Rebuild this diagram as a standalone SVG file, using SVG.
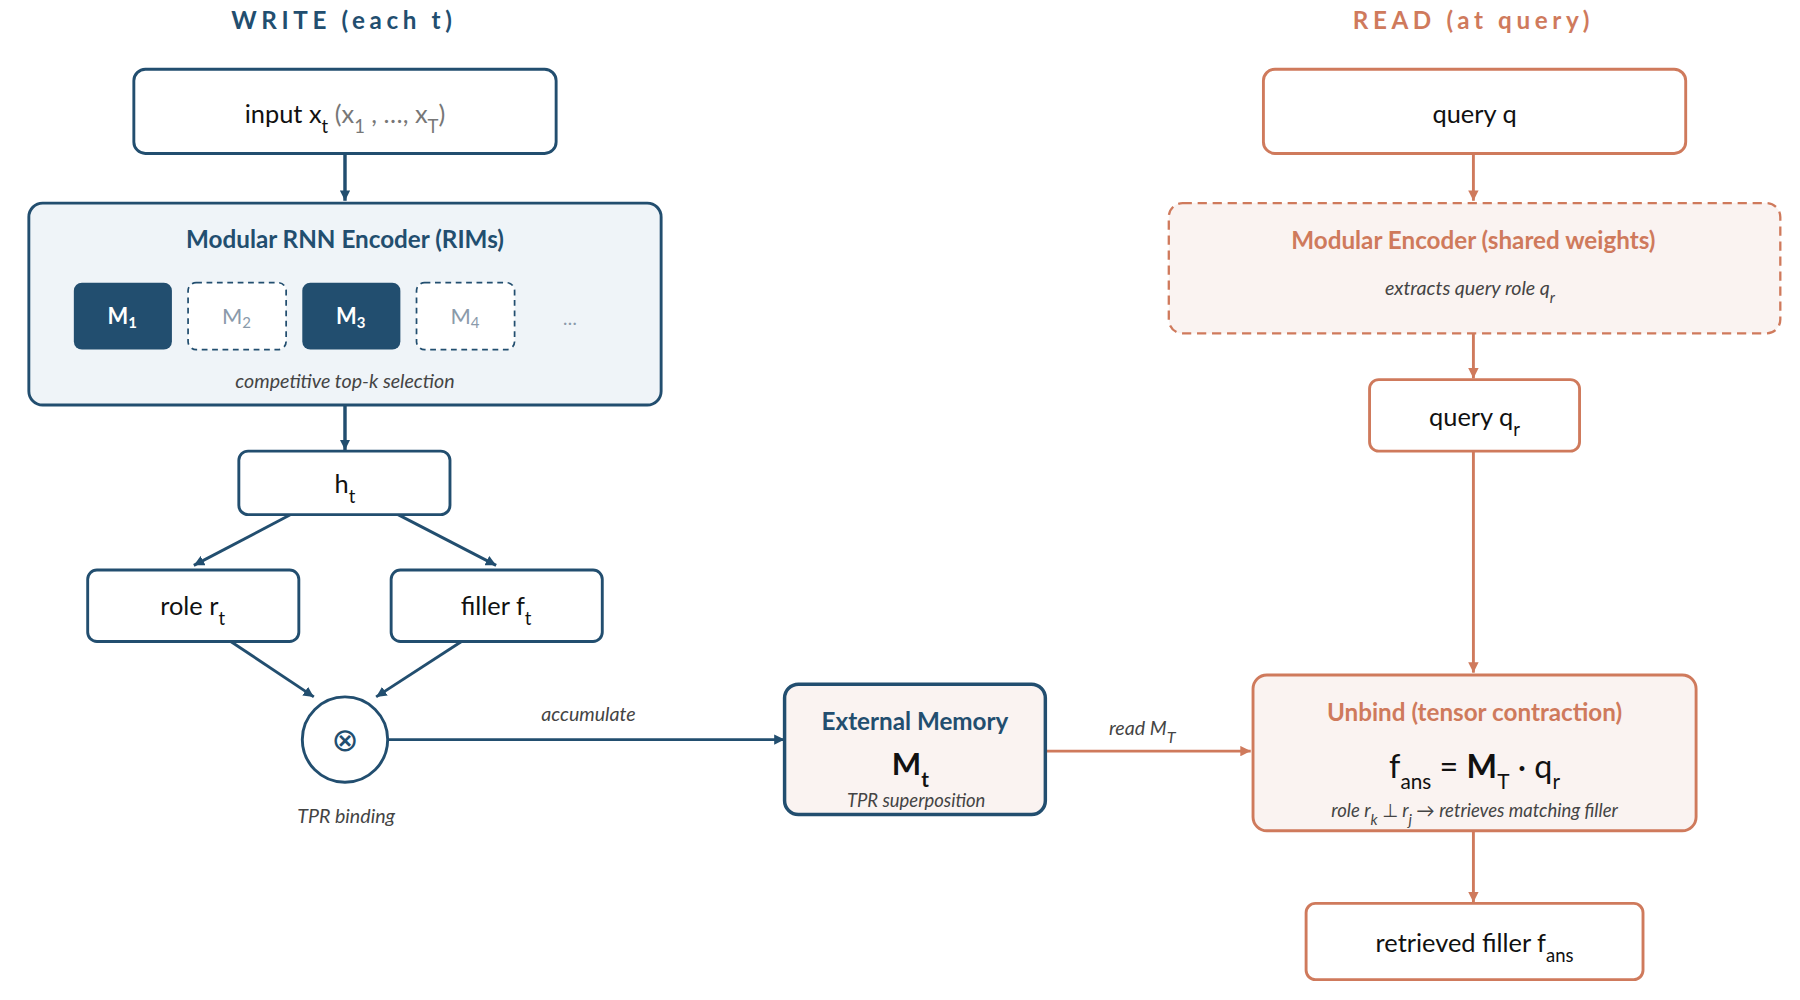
<svg xmlns="http://www.w3.org/2000/svg" width="1800" height="1000" viewBox="0 0 1800 1000">
<defs>
<style>
text{font-family:Lato,"Open Sans","DejaVu Sans",sans-serif;text-anchor:middle}
.n{fill:#fff;stroke:#224E6F;stroke-width:2.5}
.o{fill:#fff;stroke:#CF7A5C;stroke-width:2.5}
.lb{font-size:22px;fill:#111}
.hn{font-size:21px;font-weight:bold;fill:#224E6F}
.ho{font-size:21px;font-weight:bold;fill:#CF7A5C}
.it{font-size:17px;font-style:italic;fill:#444}
.cn{stroke:#224E6F;stroke-width:2.5;fill:none}
.co{stroke:#CF7A5C;stroke-width:2.5;fill:none}
</style>
<marker id="an" viewBox="0 0 10 10" refX="10" refY="5" markerWidth="9" markerHeight="9" markerUnits="userSpaceOnUse" orient="auto"><path d="M0,0L10,5L0,10z" fill="#224E6F"/></marker>
<marker id="ao" viewBox="0 0 10 10" refX="10" refY="5" markerWidth="9" markerHeight="9" markerUnits="userSpaceOnUse" orient="auto"><path d="M0,0L10,5L0,10z" fill="#CF7A5C"/></marker>
</defs>
<rect width="1800" height="1000" fill="#fff"/>
<g transform="scale(1.1538)">
<text x="298" y="25" style="font-size:21px;font-weight:bold;fill:#224E6F;letter-spacing:4px">WRITE (each t)</text>
<text x="1277" y="25" style="font-size:21px;font-weight:bold;fill:#CF7A5C;letter-spacing:4px">READ (at query)</text>

<g id="connectors">
<line class="cn" x1="299" y1="133" x2="299" y2="174" marker-end="url(#an)" style="stroke-width:3"/>
<line class="cn" x1="299" y1="351" x2="299" y2="390" marker-end="url(#an)" style="stroke-width:3"/>
<line class="cn" x1="252" y1="446" x2="168" y2="490" marker-end="url(#an)"/>
<line class="cn" x1="345" y1="446" x2="430" y2="490" marker-end="url(#an)"/>
<line class="cn" x1="200" y1="556" x2="272" y2="604" marker-end="url(#an)"/>
<line class="cn" x1="400" y1="556" x2="326" y2="604" marker-end="url(#an)"/>
<line class="cn" x1="337" y1="641" x2="680" y2="641" marker-end="url(#an)"/>
<text class="it" x="510" y="625">accumulate</text>
<line class="co" x1="906" y1="651" x2="1084" y2="651" marker-end="url(#ao)"/>
<text class="it" x="990" y="637">read M<tspan dy="7" font-size="14">T</tspan></text>
<line class="co" x1="1277" y1="133" x2="1277" y2="174" marker-end="url(#ao)"/>
<line class="co" x1="1277" y1="289" x2="1277" y2="328" marker-end="url(#ao)"/>
<line class="co" x1="1277" y1="391" x2="1277" y2="583" marker-end="url(#ao)"/>
<line class="co" x1="1277" y1="720" x2="1277" y2="782" marker-end="url(#ao)"/>
</g>

<g id="input"><rect class="n" x="116" y="60" width="366" height="73" rx="10"/>
<text class="lb" x="299" y="107">input x<tspan dy="8" font-size="16">t</tspan><tspan dy="-8" fill="#777">  (x</tspan><tspan dy="8" font-size="16" fill="#777">1</tspan><tspan dy="-8" fill="#777"> , …, x</tspan><tspan dy="8" font-size="16" fill="#777">T</tspan><tspan dy="-8" fill="#777">)</tspan></text></g>

<g id="encoder"><rect class="n" x="25" y="176" width="548" height="175" rx="12" style="fill:#EFF4F8"/>
<text class="hn" x="299" y="215">Modular RNN Encoder (RIMs)</text>
<rect x="64" y="245" width="85" height="58" rx="7" fill="#224E6F"/>
<text x="106" y="281" style="font-size:19px;font-weight:bold;fill:#fff">M<tspan font-size="13" dy="3">1</tspan></text>
<rect x="163" y="245" width="85" height="58" rx="7" fill="#fff" stroke="#224E6F" stroke-width="1.5" stroke-dasharray="5,4"/>
<text x="205" y="281" style="font-size:19px;fill:#8A9AAA">M<tspan font-size="13" dy="3">2</tspan></text>
<rect x="262" y="245" width="85" height="58" rx="7" fill="#224E6F"/>
<text x="304" y="281" style="font-size:19px;font-weight:bold;fill:#fff">M<tspan font-size="13" dy="3">3</tspan></text>
<rect x="361" y="245" width="85" height="58" rx="7" fill="#fff" stroke="#224E6F" stroke-width="1.5" stroke-dasharray="5,4"/>
<text x="403" y="281" style="font-size:19px;fill:#8A9AAA">M<tspan font-size="13" dy="3">4</tspan></text>
<text x="494" y="282" style="font-size:16px;fill:#8A9AAA">…</text>
<text class="it" x="299" y="336">competitive top-k selection</text></g>

<g id="h"><rect class="n" x="207" y="391" width="183" height="55" rx="8"/>
<text class="lb" x="299" y="427">h<tspan dy="9" font-size="16">t</tspan></text></g>
<g id="role"><rect class="n" x="76" y="494" width="183" height="62" rx="8"/>
<text class="lb" x="167" y="533">role r<tspan dy="9" font-size="16">t</tspan></text></g>
<g id="filler"><rect class="n" x="339" y="494" width="183" height="62" rx="8"/>
<text class="lb" x="430" y="533">filler f<tspan dy="9" font-size="16">t</tspan></text></g>
<g id="bind"><circle class="n" cx="299" cy="641" r="37"/>
<text x="299" y="651" style="font-size:28px;fill:#224E6F">⊗</text>
<text class="it" x="300" y="713">TPR binding</text></g>

<g id="memory"><rect class="n" x="680" y="593" width="226" height="113" rx="12" style="fill:#FAF3F1;stroke-width:3"/>
<text class="hn" x="793" y="633">External Memory</text>
<text x="789" y="672" style="font-size:27px;font-weight:bold;fill:#111">M<tspan dy="10" font-size="18">t</tspan></text>
<text class="it" x="794" y="699" style="font-size:16px">TPR superposition</text></g>

<g id="query"><rect class="o" x="1095" y="60" width="366" height="73" rx="10"/>
<text class="lb" x="1278" y="107">query q</text></g>
<g id="encoder2"><rect class="o" x="1013" y="176" width="530" height="113" rx="12" style="fill:#FAF3F1;stroke-dasharray:8,5;stroke-width:2"/>
<text class="ho" x="1277" y="216">Modular Encoder (shared weights)</text>
<text class="it" x="1274" y="256">extracts query role q<tspan dy="7" font-size="13">r</tspan></text></g>
<g id="qr"><rect class="o" x="1187" y="329" width="182" height="62" rx="8"/>
<text class="lb" x="1278" y="369">query q<tspan dy="9" font-size="16">r</tspan></text></g>
<g id="unbind"><rect class="o" x="1086" y="585" width="384" height="135" rx="12" style="fill:#FAF3F1"/>
<text class="ho" x="1278" y="625">Unbind (tensor contraction)</text>
<text x="1278" y="674" style="font-size:28px;fill:#111">f<tspan dy="10" font-size="18">ans</tspan><tspan dy="-10"> = </tspan><tspan font-weight="bold">M</tspan><tspan dy="10" font-size="18">T</tspan><tspan dy="-10"> · q</tspan><tspan dy="10" font-size="18">r</tspan></text>
<text class="it" x="1278" y="708" style="font-size:16px">role r<tspan dy="7" font-size="13">k</tspan><tspan dy="-7"> ⊥ r</tspan><tspan dy="7" font-size="13">j</tspan><tspan dy="-7"> → retrieves matching filler</tspan></text></g>
<g id="retrieved"><rect class="o" x="1132" y="783" width="292" height="66" rx="8"/>
<text class="lb" x="1278" y="825">retrieved filler f<tspan dy="9" font-size="16">ans</tspan></text></g>
</g>
</svg>
